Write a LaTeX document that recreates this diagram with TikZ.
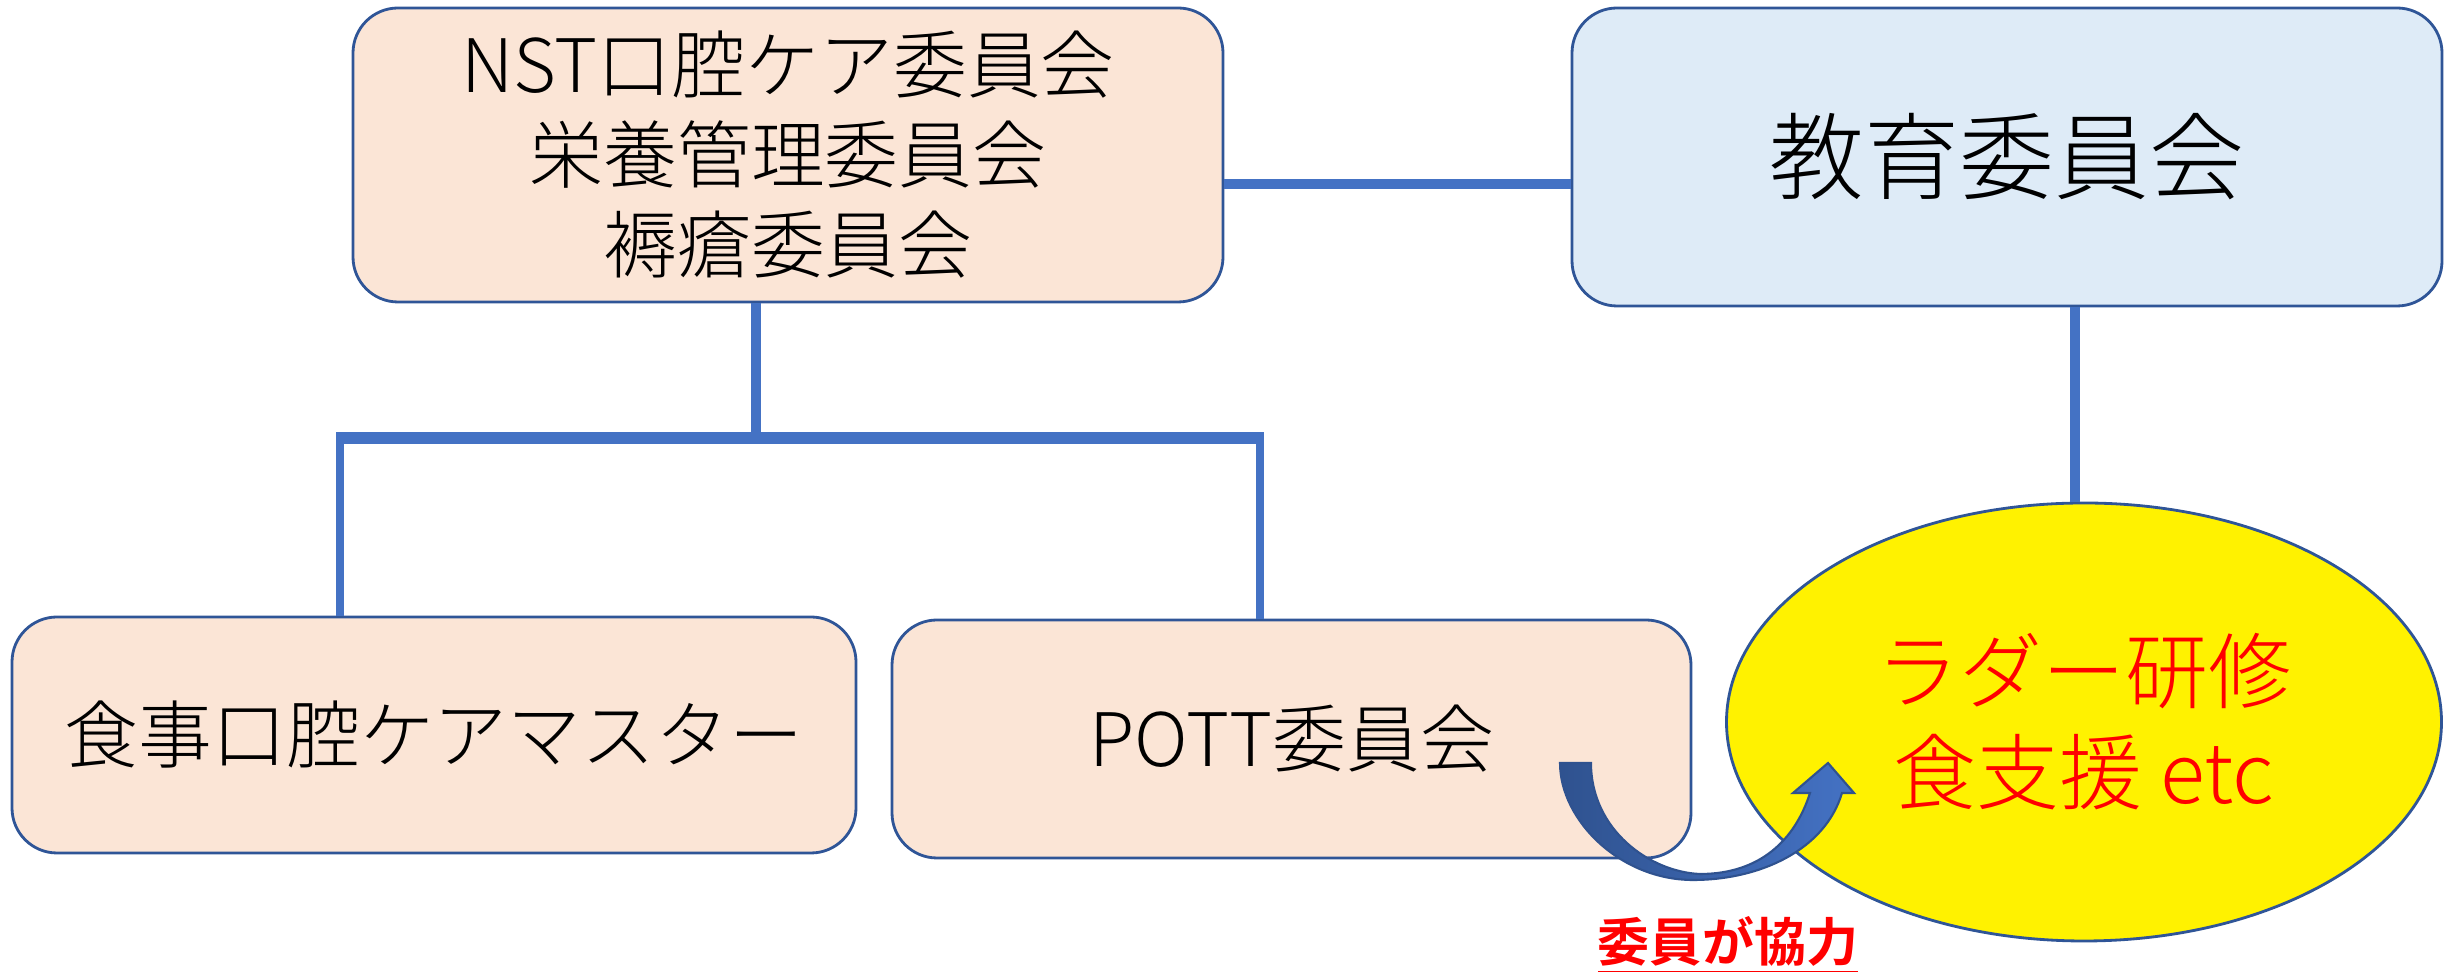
\documentclass[tikz,border=0pt]{standalone}
\usepackage{fontspec}
\setmainfont{Noto Sans CJK JP}[UprightFont=* Light,BoldFont=* Bold]
\usetikzlibrary{shapes.geometric}

\definecolor{peach}{HTML}{FBE5D6}
\definecolor{paleblue}{HTML}{DEEBF7}
\definecolor{rimblue}{HTML}{2F5597}
\definecolor{linkblue}{HTML}{4472C4}
\definecolor{arrowdark}{HTML}{2F528F}

\begin{document}
\begin{tikzpicture}[x=1cm,y=1cm,
    box/.style={draw=rimblue,line width=0.8pt,rounded corners=0.45cm,
                inner sep=0pt,align=center},
    link/.style={draw=linkblue,line width=2.9pt},
    semithick]
  \useasboundingbox (0,0) rectangle (24.5,-9.77);

  \node[box,fill=peach,minimum width=8.70cm,minimum height=2.94cm,
        font=\fontsize{21}{25.6}\selectfont] (nst) at (7.88,-1.55)
        {NST口腔ケア委員会\\栄養管理委員会\\褥瘡委員会};
  \node[box,fill=paleblue,minimum width=8.70cm,minimum height=2.98cm,
        font=\fontsize{27}{32}\selectfont] (edu) at (20.07,-1.57) {教育委員会};
  \node[box,fill=peach,minimum width=8.44cm,minimum height=2.36cm,
        font=\fontsize{21}{25.6}\selectfont] (meal) at (4.34,-7.35) {食事口腔ケアマスター};
  \node[box,fill=peach,minimum width=7.99cm,minimum height=2.38cm,
        font=\fontsize{21}{25.6}\selectfont] (pott) at (12.915,-7.39) {POTT委員会};
  \node[ellipse,draw=rimblue,line width=0.8pt,fill=yellow,inner sep=0pt,
        minimum width=7.15cm,minimum height=4.38cm,align=center,text=red,
        font=\fontsize{23.6}{28.7}\selectfont] (ladder) at (20.84,-7.22)
        {ラダー研修\\食支援 etc};

  \coordinate (ab) at (0,-1.84);
  \coordinate (nd) at (7.56,0);
  \coordinate (ed) at (20.75,0);
  \coordinate (jl) at (3.40,-4.38);
  \coordinate (jr) at (12.60,-4.38);

  \path[link] (nst.east |- ab) -- (edu.west |- ab);
  \path[link] (nd |- nst.south) -- (nd |- jl);
  \path[link,line width=3.2pt] ([xshift=-1pt]jl) -- ([xshift=1pt]jr);
  \path[link,line width=2.4pt] (jl) -- (jl |- meal.north);
  \path[link,line width=2.4pt] (jr) -- (jr |- pott.north);
  \path[link] (ed |- ladder.north) -- (ed |- edu.south);

  % curved block arrow
  \path[draw=arrowdark,line width=0.6pt,left color=arrowdark,right color=linkblue]
    (15.60,-7.63) -- (15.91,-7.63)
    .. controls (15.91,-8.30) and (16.50,-8.72) .. (17.00,-8.74)
    .. controls (17.60,-8.74) and (17.95,-8.40) .. (18.10,-7.93)
    -- (17.93,-7.93) -- (18.28,-7.63) -- (18.54,-7.93) -- (18.42,-7.93)
    .. controls (18.25,-8.50) and (17.60,-8.80) .. (16.93,-8.80)
    .. controls (16.20,-8.80) and (15.60,-8.20) .. cycle;

  \node[text=red,font=\fontsize{14.8}{17}\selectfont\bfseries] (help) at (17.28,-9.45)
        {\underline{委員が協力}};
\end{tikzpicture}
\end{document}
